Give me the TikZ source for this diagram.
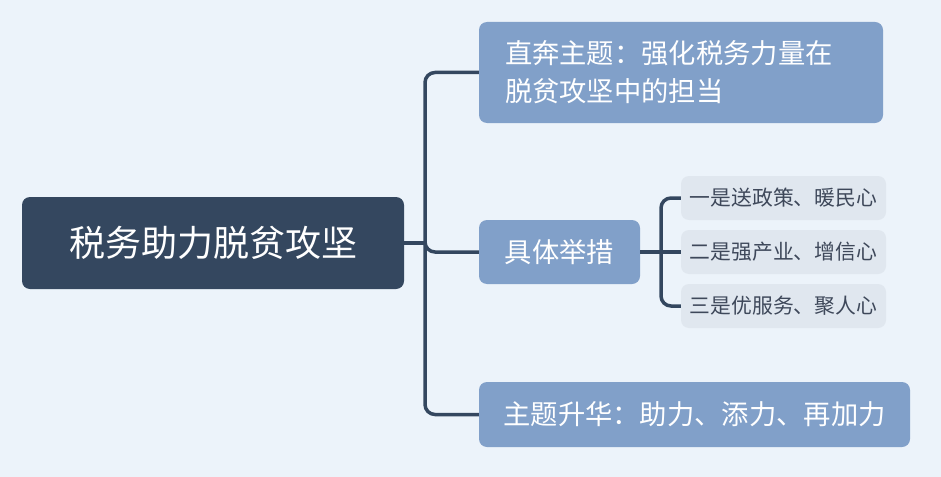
\documentclass[tikz,border=0pt]{standalone}
\usepackage{fontspec}
\setmainfont{Noto Sans CJK SC}
\definecolor{bgblue}{RGB}{236,243,250}
\definecolor{rootblue}{RGB}{52,71,95}
\definecolor{topicblue}{RGB}{129,160,201}
\definecolor{subgray}{RGB}{224,231,239}
\definecolor{subtext}{RGB}{62,72,90}
\tikzset{
  rootbox/.style={fill=rootblue, text=white, rounded corners=8pt,
    minimum width=382pt, minimum height=92pt, inner sep=0pt,
    font=\fontsize{36}{40}\selectfont},
  topicbox/.style={fill=topicblue, text=white, rounded corners=8pt,
    inner ysep=0pt, font=\fontsize{27.3}{38}\selectfont},
  subbox/.style={fill=subgray, text=subtext, rounded corners=8pt,
    minimum width=205pt, minimum height=44pt, inner sep=0pt,
    font=\fontsize{20.8}{24}\selectfont},
  link/.style={draw=rootblue, line width=3.5pt, rounded corners=10pt}
}
\begin{document}
\begin{tikzpicture}[x=1pt,y=1pt,yscale=-1]
\useasboundingbox (0,0) rectangle (941,476);
\fill[bgblue] (-3,-3) rectangle (944,479);

% root
\node[rootbox] (root) at (213,243) {税务助力脱贫攻坚};

% main topics
\node[topicbox, minimum height=101pt, text width=352pt, inner xsep=26pt, align=left]
  (goal) at (681,72.5) {直奔主题：强化税务力量在\\脱贫攻坚中的担当};
\node[topicbox, minimum width=161pt, minimum height=64pt, inner xsep=0pt]
  (steps) at (559.5,252) {具体举措};
\node[topicbox, minimum width=431pt, minimum height=65pt, inner xsep=0pt]
  (lift) at (694.5,414.5) {主题升华：助力、添力、再加力};

% sub topics
\node[subbox] (stepa) at (783.5,198) {一是送政策、暖民心};
\node[subbox] (stepb) at (783.5,252) {二是强产业、增信心};
\node[subbox] (stepc) at (783.5,306) {三是优服务、聚人心};

% connectors
\coordinate (hub) at (425,243);
\coordinate (subhub) at (661,252);
\draw[link] (root.east) -- (hub);
\draw[link] (hub) |- (goal.west);
\draw[link] (hub) |- (steps.west);
\draw[link] (hub) |- (lift.west);
\draw[link] (steps.east) -- (subhub);
\draw[link] (subhub) |- (stepa.west);
\draw[link] (subhub) -- (stepb.west);
\draw[link] (subhub) |- (stepc.west);
\end{tikzpicture}
\end{document}
